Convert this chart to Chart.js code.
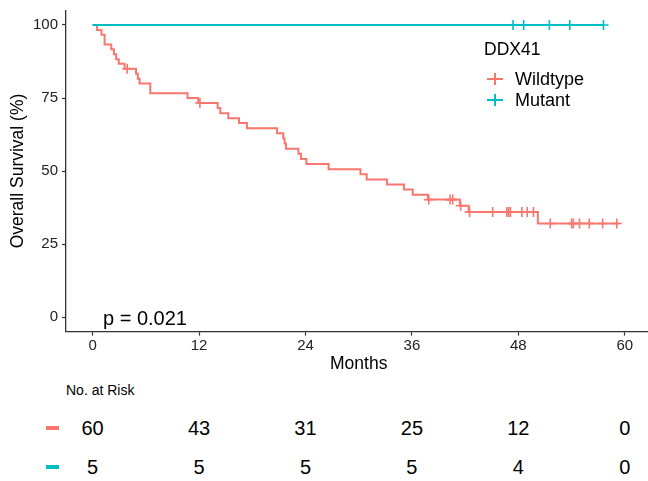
<!DOCTYPE html>
<html><head><meta charset="utf-8">
<script src="https://cdn.jsdelivr.net/npm/chart.js@4/dist/chart.umd.min.js"></script>
<style>
html,body{margin:0;padding:0;background:#fff;overflow:hidden;width:648px;height:481px;}
body{position:relative;font-family:"Liberation Sans",Arial,sans-serif;color:#000;}
#wrap{position:absolute;left:0;top:0;width:658px;height:376px;}
.abs{position:absolute;white-space:nowrap;line-height:1;}
.bar{position:absolute;}
</style></head><body>
<div id="wrap"><canvas id="c" width="658" height="376"></canvas></div>
<div id="overlay"></div>
<script>
// ---- data (months, survival %) ----
const wildTimes = [0, 0.5, 1.0, 1.35, 2.1, 2.4, 2.65, 2.95, 3.6, 4.9, 5.1, 5.3, 6.5, 10.7, 11.9, 14.1, 14.4, 15.3, 16.5, 17.4, 20.8, 21.5, 21.65, 21.8, 23.2, 23.5, 24.1, 26.6, 30.2, 30.9, 33.2, 35.1, 36.1, 37.8, 41.4, 42.4, 50.2, 59.3];
const wildSurv  = [100, 98.3, 96.7, 93.3, 91.7, 90.0, 88.3, 86.7, 85.0, 83.3, 81.6, 80.0, 76.6, 75.0, 73.3, 71.6, 69.8, 68.1, 66.4, 64.6, 62.9, 61.1, 59.4, 57.6, 55.9, 54.1, 52.4, 50.6, 48.9, 47.1, 45.4, 43.7, 41.9, 40.2, 38.1, 36.0, 32.0, 32.0];
const wildCensorTimes = [3.9, 12.1, 37.9, 40.3, 40.6, 41.5, 42.5, 45.1, 46.7, 46.9, 47.1, 48.4, 49.0, 49.7, 51.6, 54.0, 54.2, 54.9, 56.0, 57.5, 59.1];
const wildCensorSurv  = [85.0, 73.3, 40.2, 40.2, 40.2, 38.1, 36.0, 36.0, 36.0, 36.0, 36.0, 36.0, 36.0, 36.0, 32.0, 32.0, 32.0, 32.0, 32.0, 32.0, 32.0];
const mutTimes = [0, 57.6];
const mutSurv  = [100, 100];
const mutCensorTimes = [47.4, 48.6, 51.5, 53.8, 57.6];
const mutCensorSurv  = [100, 100, 100, 100, 100];
const xTicks = [0, 12, 24, 36, 48, 60];
const yTicks = [0, 25, 50, 75, 100];
const riskTimes = [0, 12, 24, 36, 48, 60];
const riskWild = [60, 43, 31, 25, 12, 0];
const riskMut  = [5, 5, 5, 5, 4, 0];
const groups = ['Wildtype', 'Mutant'];
const legendTitle = 'DDX41';
const pText = 'p = 0.021';

const RED = '#F8766D', TEAL = '#00BFC4';
const pts = (xs, ys) => xs.map((x, i) => ({x: x, y: ys[i]}));

const chart = new Chart(document.getElementById('c'), {
  type: 'line',
  data: {
    datasets: [
      {label: groups[1], data: pts(mutCensorTimes, mutCensorSurv), showLine: false, pointStyle: 'cross', pointRadius: 5, borderColor: TEAL, pointBorderWidth: 1.6, order: 0},
      {label: groups[1], data: pts(mutTimes, mutSurv), stepped: 'before', borderColor: TEAL, borderWidth: 2, pointRadius: 0, fill: false, order: 1},
      {label: groups[0], data: pts(wildCensorTimes, wildCensorSurv), showLine: false, pointStyle: 'cross', pointRadius: 5, borderColor: RED, pointBorderWidth: 1.6, order: 2},
      {label: groups[0], data: pts(wildTimes, wildSurv), stepped: 'before', borderColor: RED, borderWidth: 2, pointRadius: 0, fill: false, order: 3}
    ]
  },
  options: {
    responsive: false, animation: false, devicePixelRatio: 1,
    layout: {padding: {top: 10.4, right: 0, left: 0, bottom: 0}},
    plugins: {legend: {display: false}, tooltip: {enabled: false}},
    scales: {
      x: {
        type: 'linear', min: -3, max: 63,
        afterBuildTicks: s => { s.ticks = xTicks.map(v => ({value: v})); },
        afterFit: s => { s.height = 44.4; },
        border: {display: true, color: '#333', width: 1.3},
        grid: {display: true, drawOnChartArea: false, drawTicks: true, tickLength: 4, tickColor: '#333', tickWidth: 1.2},
        ticks: {color: '#222', font: {family: 'Liberation Sans', size: 15}, padding: 1, maxRotation: 0, autoSkip: false},
        title: {display: true, text: 'Months', color: '#000', font: {family: 'Liberation Sans', size: 17.5}, padding: {top: 2, bottom: 1}}
      },
      y: {
        type: 'linear', min: -5, max: 105,
        afterBuildTicks: s => { s.ticks = yTicks.map(v => ({value: v})); },
        afterFit: s => { s.width = 66; s.paddingTop = 0; s.paddingBottom = 0; },
        border: {display: true, color: '#333', width: 1.3},
        grid: {display: true, drawOnChartArea: false, drawTicks: true, tickLength: 4, tickColor: '#333', tickWidth: 1.2},
        ticks: {color: '#222', font: {family: 'Liberation Sans', size: 15}, padding: 4, autoSkip: false},
        title: {display: true, text: 'Overall Survival (%)', color: '#000', font: {family: 'Liberation Sans', size: 17.5}, padding: {top: 8, bottom: 2}}
      }
    }
  }
});

// ---- overlays: legend, p-value, risk table ----
const ov = document.getElementById('overlay');
function txt(s, left, cy, size, center) {
  const d = document.createElement('div');
  d.className = 'abs';
  d.textContent = s;
  d.style.fontSize = size + 'px';
  d.style.top = (cy - 0.49 * size) + 'px';
  d.style.left = left + 'px';
  if (center) d.style.transform = 'translateX(-50%)';
  ov.appendChild(d);
}
function bar(l, t, w, h, c) {
  const d = document.createElement('div');
  d.className = 'bar';
  Object.assign(d.style, {left: l + 'px', top: t + 'px', width: w + 'px', height: h + 'px', background: c});
  ov.appendChild(d);
}
function legCross(cx, cy, c) {
  bar(cx - 8, cy - 1, 16, 2, c);
  bar(cx - 1, cy - 6, 2, 12, c);
}
txt(legendTitle, 484, 50, 17.5);
legCross(495, 78.5, RED); txt(groups[0], 515, 78.5, 18);
legCross(495, 99.5, TEAL); txt(groups[1], 515, 99.5, 18);
txt(pText, 103, 318, 20);

txt('No. at Risk', 66, 390, 14);
const xs = chart.scales.x;
bar(46, 426, 13, 4, RED);
bar(46, 465, 13, 4, TEAL);
riskTimes.forEach((t, i) => {
  const px = xs.getPixelForValue(t);
  txt(String(riskWild[i]), px, 428, 20, true);
  txt(String(riskMut[i]), px, 467, 20, true);
});
</script>
</body></html>
